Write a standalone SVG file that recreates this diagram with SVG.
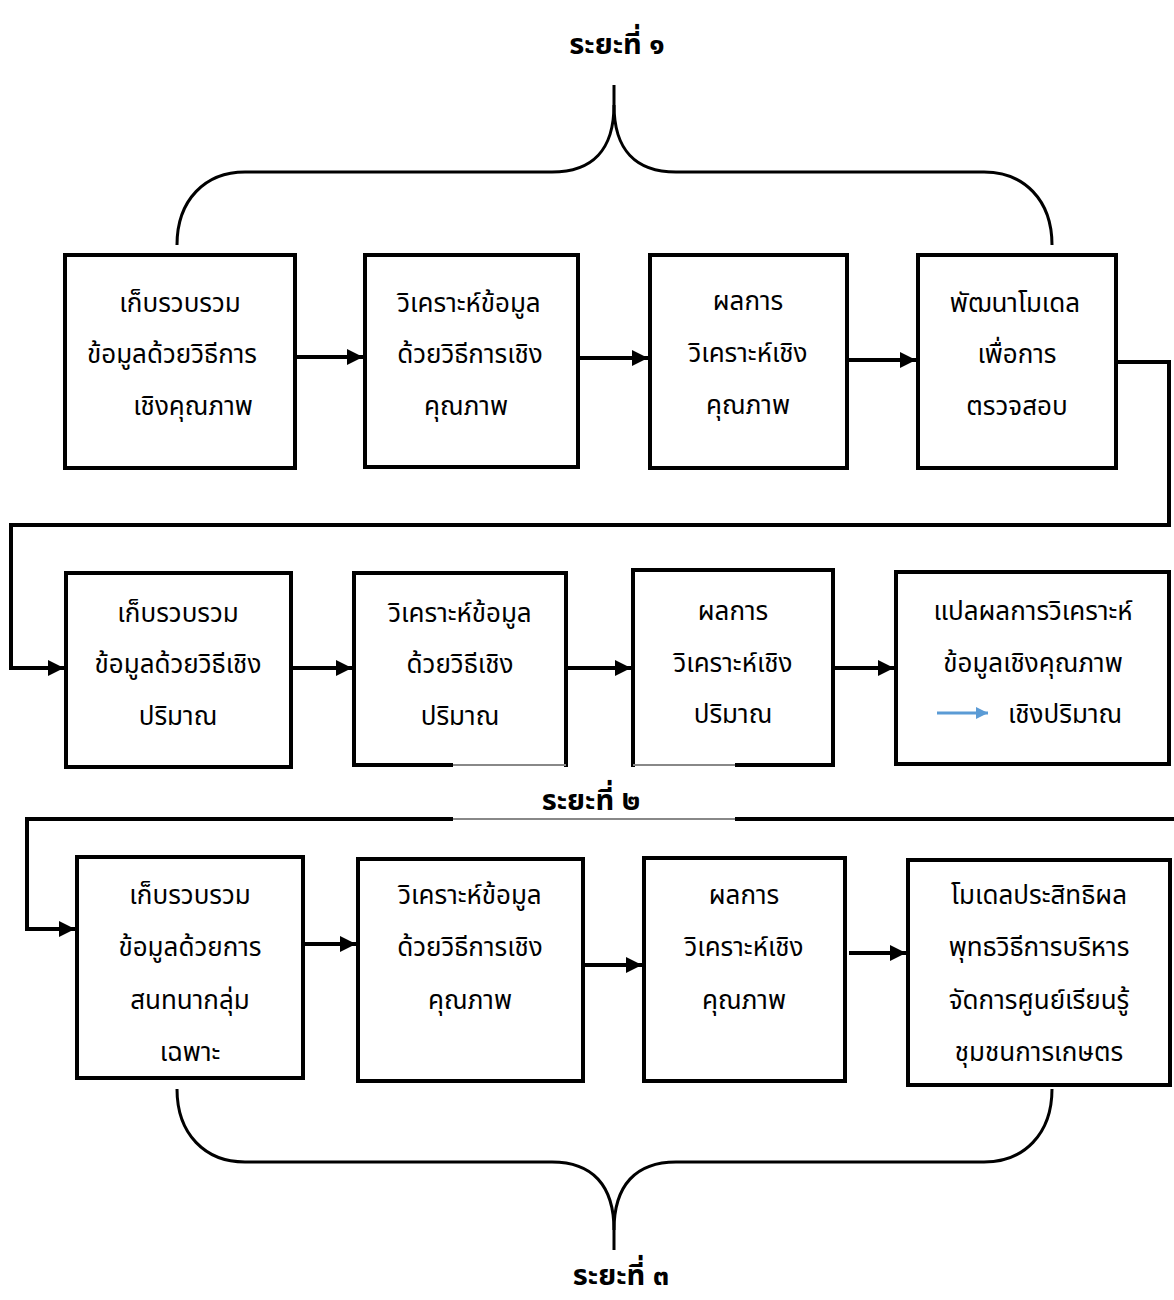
<svg xmlns="http://www.w3.org/2000/svg" width="1174" height="1300" viewBox="0 0 1174 1300">
<style>
.box{fill:#fff;stroke:#000;stroke-width:4}
.t{font-family:"Noto Sans Thai","Noto Sans","DejaVu Sans",sans-serif;font-size:26px;fill:#000;text-anchor:middle}
.h{font-family:"Noto Sans Thai","Noto Sans","DejaVu Sans",sans-serif;font-size:29px;font-weight:bold;fill:#000;text-anchor:middle}
.c{fill:none;stroke:#000;stroke-width:4}
.br{fill:none;stroke:#000;stroke-width:3}
.fade{fill:none;stroke:#fff;stroke-width:5}
.g{fill:none;stroke:#888;stroke-width:2}
</style>
<defs>
<marker id="ah" markerWidth="4" markerHeight="4" refX="4" refY="2" orient="auto" markerUnits="strokeWidth"><path d="M0,0 L4,2 L0,4 Z" fill="#000"/></marker>
<marker id="ab" markerWidth="4" markerHeight="4" refX="4" refY="2" orient="auto" markerUnits="strokeWidth"><path d="M0,0 L4,2 L0,4 Z" fill="#5B9BD5"/></marker>
</defs>
<g id="labels">
<text class="h" x="617" y="54">ระยะที่ ๑</text>
<text class="h" x="591" y="810">ระยะที่ ๒</text>
<text class="h" x="621" y="1285">ระยะที่ ๓</text>
</g>
<g id="braces">
<path class="br" d="M614,85 L614,105 C614,150 592,172 552,172 L245,172 C205,172 177,200 177,245"/>
<path class="br" d="M614,105 C614,150 636,172 676,172 L984,172 C1024,172 1052,200 1052,245"/>
<path class="br" d="M614,1250 L614,1230 C614,1185 592,1162 552,1162 L245,1162 C205,1162 177,1134 177,1089"/>
<path class="br" d="M614,1230 C614,1185 636,1162 676,1162 L984,1162 C1024,1162 1052,1134 1052,1089"/>
</g>
<g id="connectors">
<path class="c" d="M295,357 H363" marker-end="url(#ah)"/>
<path class="c" d="M578,358 H648" marker-end="url(#ah)"/>
<path class="c" d="M847,360 H916" marker-end="url(#ah)"/>
<path class="c" d="M1116,362 H1169 V525 H11 V668 H64" marker-end="url(#ah)"/>
<path class="c" d="M291,668 H352" marker-end="url(#ah)"/>
<path class="c" d="M566,668 H631" marker-end="url(#ah)"/>
<path class="c" d="M833,668 H894" marker-end="url(#ah)"/>
<path class="c" d="M453,819 H27 V929 H75" marker-end="url(#ah)"/>
<path class="g" d="M735,819 H453"/>
<path class="c" d="M1174,819 H735"/>
<path class="c" d="M304,944 H356" marker-end="url(#ah)"/>
<path class="c" d="M584,965 H642" marker-end="url(#ah)"/>
<path class="c" d="M849,953 H906" marker-end="url(#ah)"/>
</g>
<g id="n1"><rect class="box" x="65" y="255" width="230" height="213"/>
<text class="t"><tspan x="180" y="312">เก็บรวบรวม</tspan><tspan x="172" y="363">ข้อมูลด้วยวิธีการ</tspan><tspan x="193" y="415">เชิงคุณภาพ</tspan></text></g>
<g id="n2"><rect class="box" x="365" y="255" width="213" height="212"/>
<text class="t"><tspan x="469" y="312">วิเคราะห์ข้อมูล</tspan><tspan x="470" y="363">ด้วยวิธีการเชิง</tspan><tspan x="466" y="415">คุณภาพ</tspan></text></g>
<g id="n3"><rect class="box" x="650" y="255" width="197" height="213"/>
<text class="t"><tspan x="748" y="310">ผลการ</tspan><tspan x="748" y="362">วิเคราะห์เชิง</tspan><tspan x="748" y="414">คุณภาพ</tspan></text></g>
<g id="n4"><rect class="box" x="918" y="255" width="198" height="213"/>
<text class="t"><tspan x="1015" y="312">พัฒนาโมเดล</tspan><tspan x="1017" y="363">เพื่อการ</tspan><tspan x="1017" y="415">ตรวจสอบ</tspan></text></g>
<g id="n5"><rect class="box" x="66" y="573" width="225" height="194"/>
<text class="t"><tspan x="178" y="622">เก็บรวบรวม</tspan><tspan x="178" y="673">ข้อมูลด้วยวิธีเชิง</tspan><tspan x="178" y="725">ปริมาณ</tspan></text></g>
<g id="n6"><rect class="box" x="354" y="573" width="212" height="192"/>
<path class="fade" d="M453,765 H564"/><path class="g" d="M453,765 H566"/>
<text class="t"><tspan x="460" y="622">วิเคราะห์ข้อมูล</tspan><tspan x="460" y="673">ด้วยวิธีเชิง</tspan><tspan x="460" y="725">ปริมาณ</tspan></text></g>
<g id="n7"><rect class="box" x="633" y="570" width="200" height="195"/>
<path class="fade" d="M635,765 H735"/><path class="g" d="M633,765 H735"/>
<text class="t"><tspan x="733" y="620">ผลการ</tspan><tspan x="733" y="672">วิเคราะห์เชิง</tspan><tspan x="733" y="723">ปริมาณ</tspan></text></g>
<g id="n8"><rect class="box" x="896" y="572" width="273" height="192"/>
<text class="t"><tspan x="1033" y="620">แปลผลการวิเคราะห์</tspan><tspan x="1033" y="672">ข้อมูลเชิงคุณภาพ</tspan><tspan x="1065" y="723">เชิงปริมาณ</tspan></text>
<path d="M937,713 H988" fill="none" stroke="#5B9BD5" stroke-width="3" marker-end="url(#ab)"/></g>
<g id="n9"><rect class="box" x="77" y="857" width="226" height="221"/>
<text class="t"><tspan x="190" y="904">เก็บรวบรวม</tspan><tspan x="190" y="956">ข้อมูลด้วยการ</tspan><tspan x="190" y="1009">สนทนากลุ่ม</tspan><tspan x="190" y="1061">เฉพาะ</tspan></text></g>
<g id="n10"><rect class="box" x="358" y="859" width="225" height="222"/>
<text class="t"><tspan x="470" y="904">วิเคราะห์ข้อมูล</tspan><tspan x="470" y="956">ด้วยวิธีการเชิง</tspan><tspan x="470" y="1009">คุณภาพ</tspan></text></g>
<g id="n11"><rect class="box" x="644" y="858" width="201" height="223"/>
<text class="t"><tspan x="744" y="904">ผลการ</tspan><tspan x="744" y="956">วิเคราะห์เชิง</tspan><tspan x="744" y="1009">คุณภาพ</tspan></text></g>
<g id="n12"><rect class="box" x="908" y="860" width="262" height="225"/>
<text class="t"><tspan x="1039" y="904">โมเดลประสิทธิผล</tspan><tspan x="1039" y="956">พุทธวิธีการบริหาร</tspan><tspan x="1039" y="1009">จัดการศูนย์เรียนรู้</tspan><tspan x="1039" y="1061">ชุมชนการเกษตร</tspan></text></g>
</svg>
